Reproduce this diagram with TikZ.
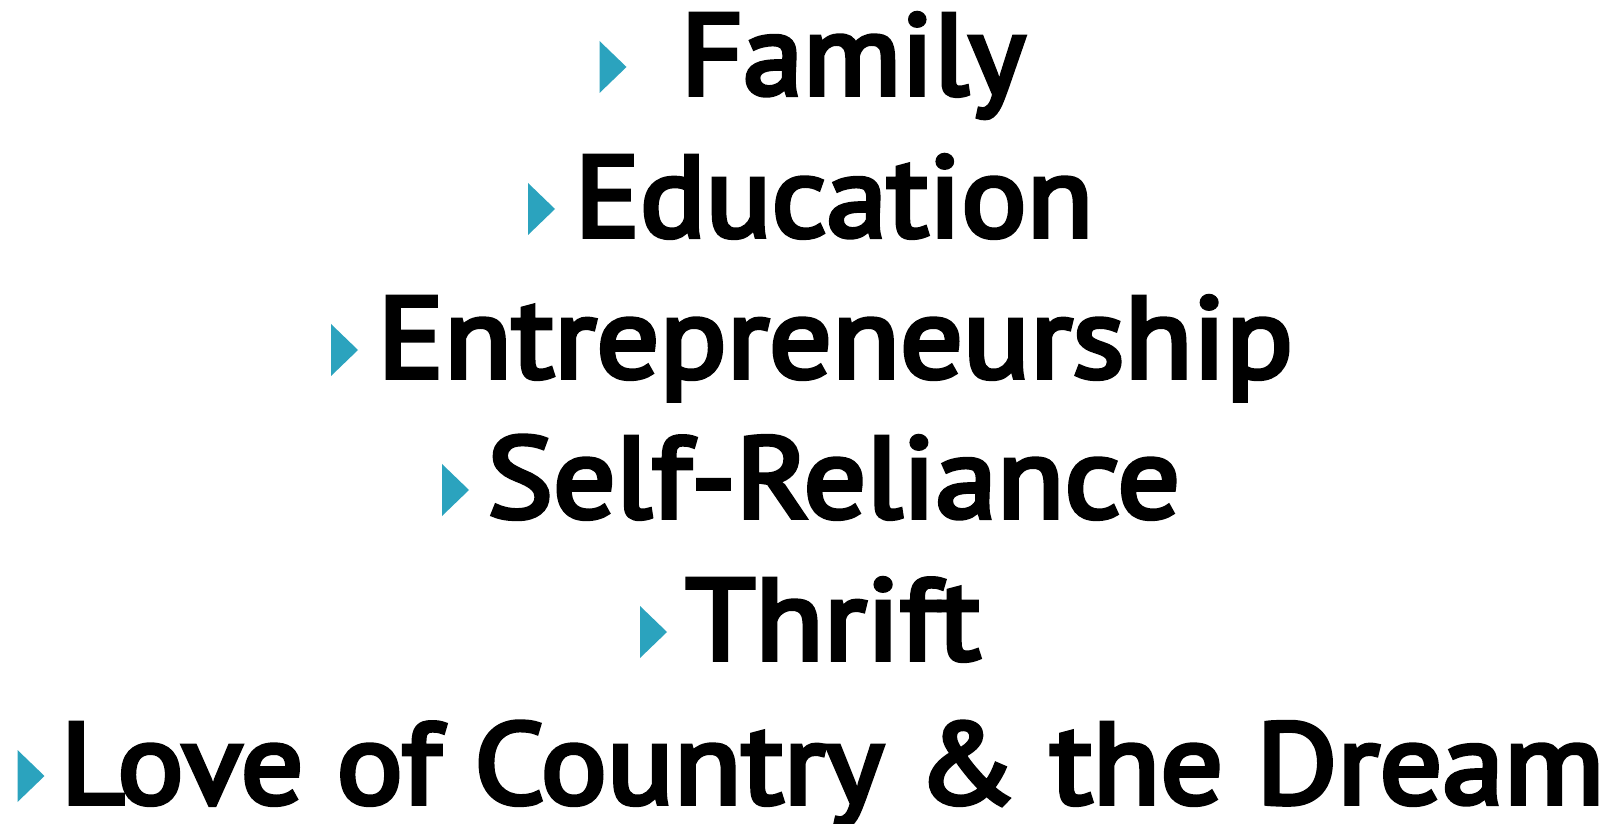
\documentclass[tikz,border=0pt]{standalone}
\usepackage{fontspec}
\usepackage{graphicx}
\newfontfamily\mainfam{PT Sans}[FakeBold=4]
\definecolor{bulletteal}{RGB}{43,163,190}
\newlength\lbear
\newlength\rbear
\newlength\caph
\newlength\linew
\newcommand\mainfnt{\mainfam\mdseries\fontsize{\fsz pt}{\fsz pt}\selectfont}
% measure: #1 name, #2 ink left, #3 ink right, #4 text, #5 first char, #6 last char
\newcommand\measureline[6]{%
  \begingroup
  \mainfnt
  \settowidth{\linew}{#4}%
  \lbear=\XeTeXglyphbounds1 \XeTeXcharglyph`#5\relax
  \rbear=\XeTeXglyphbounds3 \XeTeXcharglyph`#6\relax
  \pgfmathsetmacro\inkw{\linew-\lbear-\rbear}%
  \pgfmathsetmacro\tmpsx{(#3-#2)/\inkw}%
  \pgfmathsetmacro\tmpxs{#2-\tmpsx*\lbear}%
  \expandafter\xdef\csname sx#1\endcsname{\tmpsx}%
  \expandafter\xdef\csname xs#1\endcsname{\tmpxs}%
  \endgroup}
% place: #1 name, #2 baseline (from top), #3 text
\newcommand\placeline[3]{%
  \node[itemtext] (#1) at (\csname xs#1\endcsname, 823-#2)
    {\mainfnt\scalebox{\csname sx#1\endcsname}[1]{#3}};}
% #1 name, #2 left x, #3 baseline (from top)
\newcommand\bulletat[3]{%
  \coordinate (#1) at (#2, 823-#3+2);
  \fill[bullet] (#1) -- ++(0,52) -- ++(27,-26) -- cycle;}
\tikzset{
  itemtext/.style={anchor=base west, inner sep=0pt, outer sep=0pt, text=black},
  bullet/.style={fill=bulletteal}
}
\begin{document}
\settoheight{\caph}{\mainfam\mdseries\fontsize{100pt}{100pt}\selectfont H}%
\pgfmathsetmacro\fsz{100*80.5/\caph}%
\measureline{A}{691}{1024}{Family}{F}{y}%
\measureline{B}{585}{1085}{Education}{E}{n}%
\measureline{C}{388}{1287}{Entrepreneurship}{E}{p}%
\measureline{D}{493}{1174}{Self-Reliance}{S}{e}%
\measureline{E}{688}{979}{Thrift}{T}{t}%
\measureline{F}{71}{1596}{Love of Country \& the Dream}{L}{m}%
\begin{tikzpicture}[x=1pt, y=1pt]
\useasboundingbox (0,0) rectangle (1617,823);
\fill[white] (0,0) rectangle (1617,823);
\bulletat{b1}{599.5}{95}
\bulletat{b2}{528}{237}
\bulletat{b3}{331}{378}
\bulletat{b4}{442}{518}
\bulletat{b5}{640}{660}
\bulletat{b6}{17.5}{804}
\placeline{A}{94.5}{Family}
\placeline{B}{236.5}{Education}
\placeline{C}{377.5}{Entrepreneurship}
\placeline{D}{517.5}{Self-Reliance}
\placeline{E}{659.5}{Thrift}
\placeline{F}{803.5}{Love of Country \& the Dream}
\end{tikzpicture}
\end{document}
